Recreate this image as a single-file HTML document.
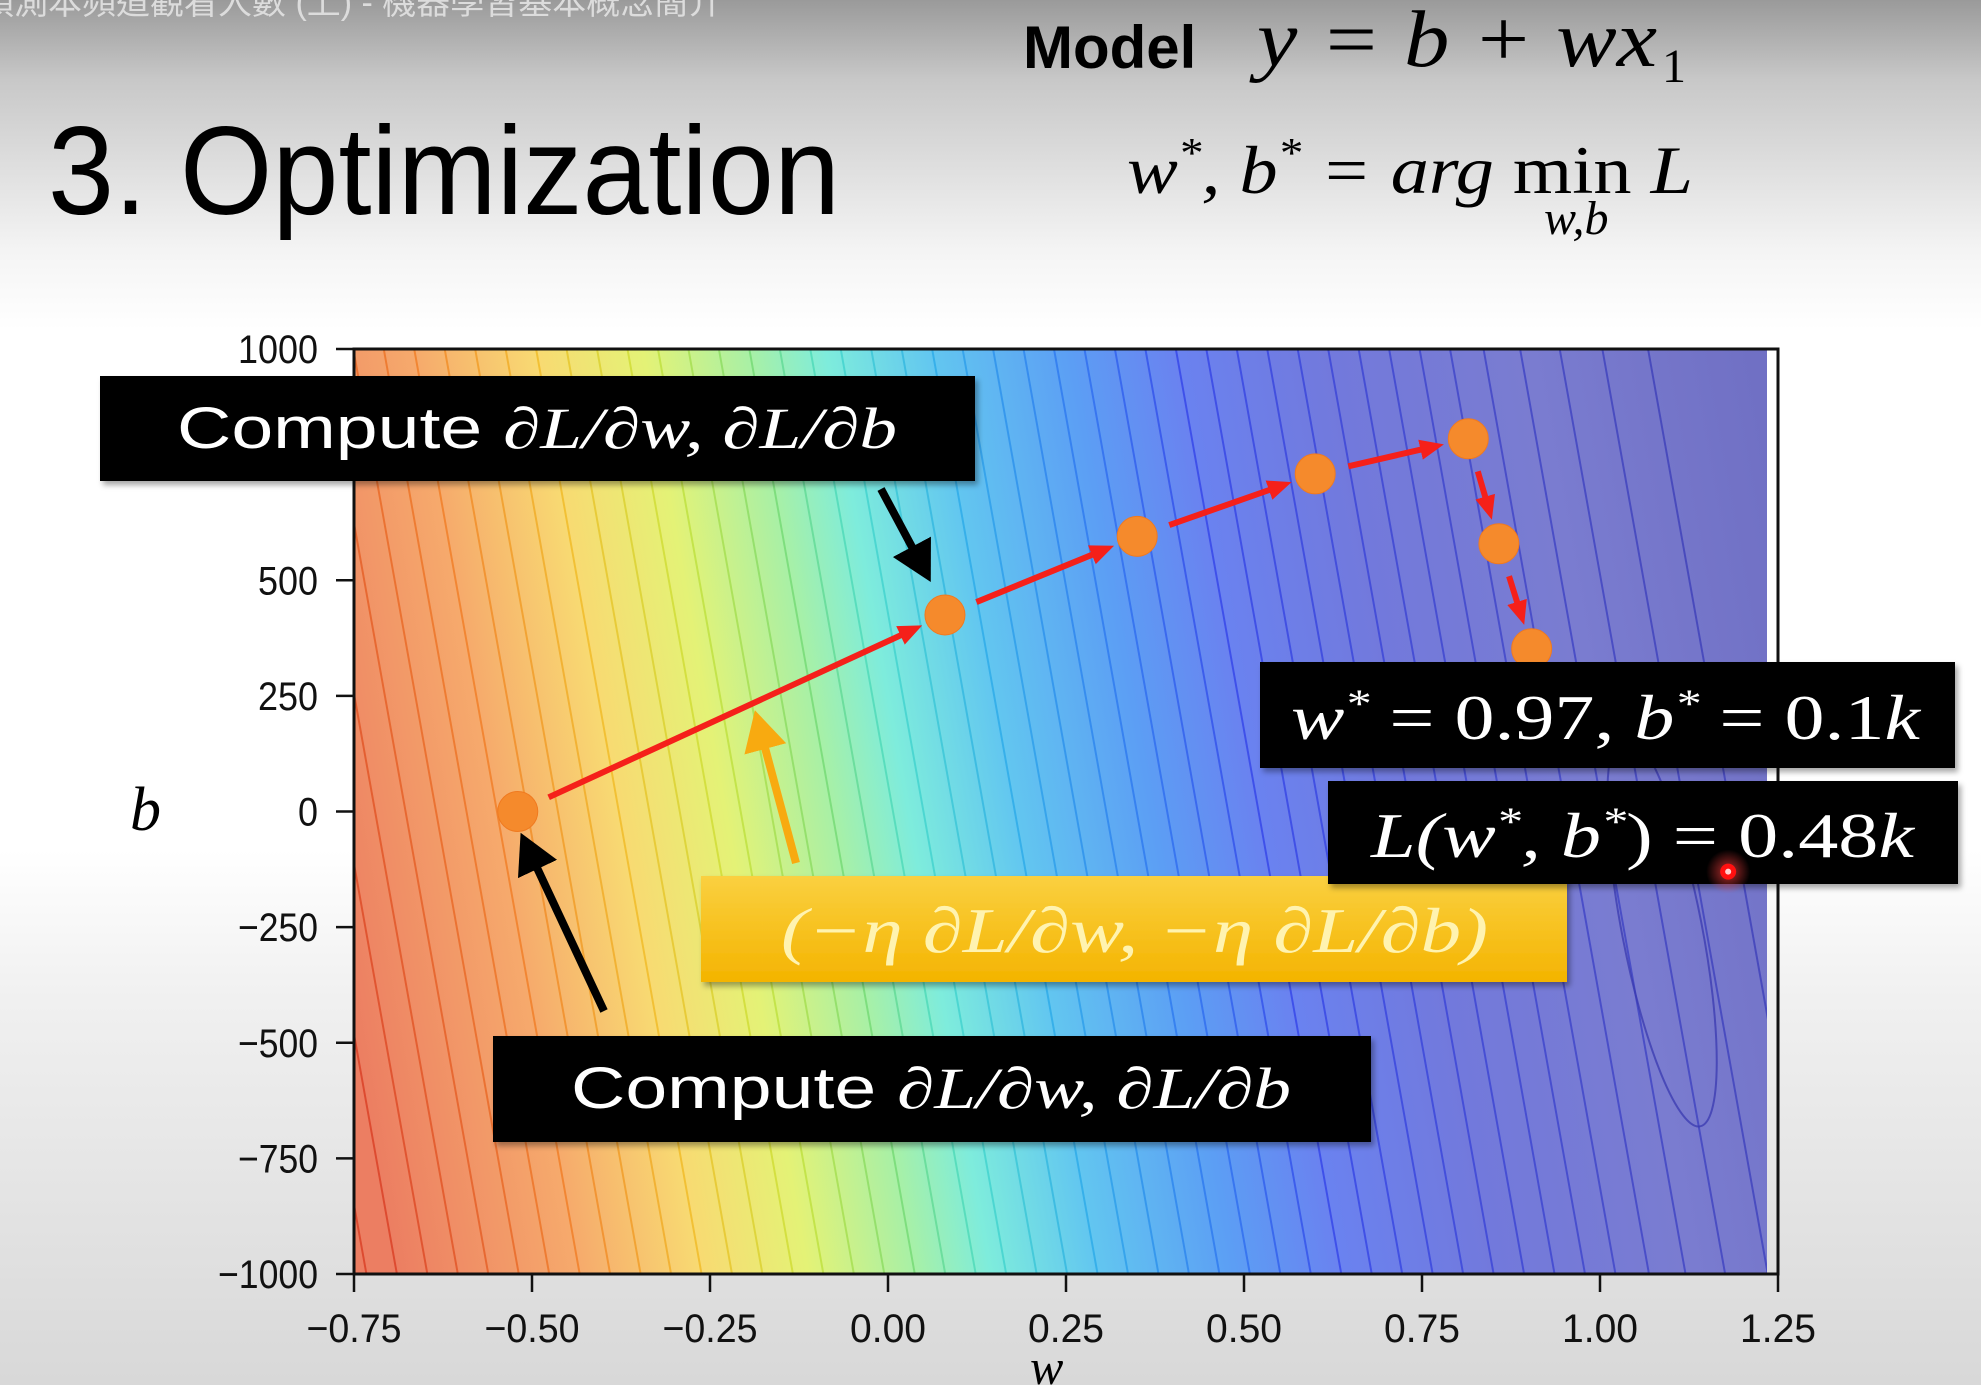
<!DOCTYPE html>
<html><head><meta charset="utf-8">
<style>
html,body{margin:0;padding:0;overflow:hidden;}
body{width:1981px;height:1385px;overflow:hidden;background:linear-gradient(#9a9a9a 0px,#c8c8c8 80px,#f4f4f4 250px,#ffffff 330px,#ffffff 850px,#f0f0f0 1000px,#d8d8d8 1385px);}
svg{position:absolute;left:0;top:0;display:block;}
.m{font-family:"Liberation Serif",serif;font-style:italic;}
.s{font-family:"Liberation Sans",sans-serif;}
</style></head>
<body>
<svg id="chart" width="1981" height="1385" viewBox="0 0 1981 1385">
<defs>
<linearGradient id="fillGrad" gradientUnits="userSpaceOnUse" x1="330" y1="900" x2="1806" y2="636">
<stop offset="0" stop-color="#ec7e62"/>
<stop offset="0.12" stop-color="#f6aa6c"/>
<stop offset="0.2" stop-color="#f8da72"/>
<stop offset="0.27" stop-color="#e4f276"/>
<stop offset="0.34" stop-color="#a8f0a6"/>
<stop offset="0.39" stop-color="#7eecdc"/>
<stop offset="0.46" stop-color="#62c6f0"/>
<stop offset="0.55" stop-color="#5c9ef4"/>
<stop offset="0.62" stop-color="#6a82f0"/>
<stop offset="0.72" stop-color="#7279dc"/>
<stop offset="0.85" stop-color="#7a7cd0"/>
<stop offset="1" stop-color="#7070c4"/>
</linearGradient>
<linearGradient id="lineGrad" gradientUnits="userSpaceOnUse" x1="330" y1="900" x2="1806" y2="636">
<stop offset="0" stop-color="#d83a20"/>
<stop offset="0.12" stop-color="#f07a20"/>
<stop offset="0.2" stop-color="#f0b820"/>
<stop offset="0.27" stop-color="#c8e030"/>
<stop offset="0.34" stop-color="#70d870"/>
<stop offset="0.39" stop-color="#40d8c8"/>
<stop offset="0.46" stop-color="#28a8e8"/>
<stop offset="0.55" stop-color="#2a70f0"/>
<stop offset="0.62" stop-color="#3040e8"/>
<stop offset="0.8" stop-color="#3a40c8"/>
<stop offset="1" stop-color="#3a3ab0"/>
</linearGradient>
<linearGradient id="yel" x1="0" y1="0" x2="0" y2="1">
<stop offset="0" stop-color="#fad040"/><stop offset="1" stop-color="#f4b400"/>
</linearGradient>
<clipPath id="plotClip"><rect x="354" y="349" width="1413" height="925"/></clipPath>
<marker id="redHead" markerWidth="4" markerHeight="4" refX="2.5" refY="2" orient="auto" markerUnits="strokeWidth"><path d="M0,0.3 L4,2 L0,3.7 Z" fill="#f5201a"/></marker>
<marker id="blackHead" markerWidth="6" markerHeight="6" refX="4" refY="3" orient="auto" markerUnits="strokeWidth"><path d="M0,0.3 L5,3 L0,5.7 Z" fill="#000"/></marker>
<marker id="orangeHead" markerWidth="6" markerHeight="6" refX="4" refY="3" orient="auto" markerUnits="strokeWidth"><path d="M0,0.3 L5,3 L0,5.7 Z" fill="#f8aa10"/></marker>
<filter id="shadow" x="-5%" y="-10%" width="110%" height="130%"><feDropShadow dx="3" dy="4" stdDeviation="3" flood-opacity="0.35"/></filter>
<radialGradient id="glow"><stop offset="0" stop-color="#ff4040" stop-opacity="0.7"/><stop offset="1" stop-color="#ff4040" stop-opacity="0"/></radialGradient>
</defs>

<text x="-20" y="14" class="s" font-size="34" fill="#dcdcdc" style="font-family:'Liberation Sans','Noto Sans CJK TC',sans-serif">預測本頻道觀看人數 (上) - 機器學習基本概念簡介</text>

<text x="1023" y="68" class="s" font-size="60" font-weight="bold" fill="#000">Model</text>
<text x="1257" y="66" class="m" font-size="80" fill="#000" textLength="400" lengthAdjust="spacingAndGlyphs">y = b + wx</text>
<text x="1662" y="82" font-family="Liberation Serif, serif" font-size="48" fill="#000">1</text>
<text x="48" y="214" class="s" font-size="125" fill="#000" textLength="792" lengthAdjust="spacingAndGlyphs">3. Optimization</text>
<g>
<text x="1127" y="193" class="m" font-size="68" fill="#000" textLength="566" lengthAdjust="spacingAndGlyphs">w<tspan dy="-26" font-size="42">*</tspan><tspan dy="26">, b</tspan><tspan dy="-26" font-size="42">*</tspan><tspan dy="26"> = arg </tspan><tspan font-style="normal">min </tspan>L</text>
<text x="1544" y="234" class="m" font-size="48" fill="#000">w,b</text>
</g>

<g id="plot"></g>
<g id="axes"></g>
<g id="path"></g>

<text x="130" y="830" class="m" font-size="62" fill="#000">b</text>
<text x="1030" y="1384" class="m" font-size="50" fill="#000">w</text>

<g>
<line x1="604" y1="1011" x2="524" y2="840" stroke="#000" stroke-width="8" marker-end="url(#blackHead)"/>
<line x1="881" y1="489" x2="927" y2="575" stroke="#000" stroke-width="8" marker-end="url(#blackHead)"/>
<line x1="796" y1="863" x2="757" y2="718" stroke="#f8aa10" stroke-width="8" marker-end="url(#orangeHead)"/>

<g filter="url(#shadow)">
<rect x="100" y="376" width="875" height="105" fill="#000"/>
<text x="177" y="448" fill="#fff" font-size="58" textLength="720" lengthAdjust="spacingAndGlyphs"><tspan class="s">Compute </tspan><tspan class="m">∂L/∂w, ∂L/∂b</tspan></text>
</g>
<g filter="url(#shadow)">
<rect x="493" y="1036" width="878" height="106" fill="#000"/>
<text x="571" y="1108" fill="#fff" font-size="58" textLength="720" lengthAdjust="spacingAndGlyphs"><tspan class="s">Compute </tspan><tspan class="m">∂L/∂w, ∂L/∂b</tspan></text>
</g>
<g filter="url(#shadow)">
<rect x="701" y="876" width="866" height="106" fill="url(#yel)"/>
<text x="781" y="952" class="m" fill="#fff3b0" font-size="64" textLength="707" lengthAdjust="spacingAndGlyphs">(−η ∂L/∂w, −η ∂L/∂b)</text>
</g>
<g filter="url(#shadow)">
<rect x="1260" y="662" width="695" height="106" fill="#000"/>
<text x="1291" y="739" class="m" fill="#fff" font-size="64" textLength="629" lengthAdjust="spacingAndGlyphs">w<tspan dy="-22" font-size="40">*</tspan><tspan dy="22" font-style="normal"> = 0.97, </tspan>b<tspan dy="-22" font-size="40">*</tspan><tspan dy="22" font-style="normal"> = 0.1</tspan>k</text>
</g>
<g filter="url(#shadow)">
<rect x="1328" y="781" width="630" height="103" fill="#000"/>
<text x="1371" y="857" class="m" fill="#fff" font-size="64" textLength="543" lengthAdjust="spacingAndGlyphs">L(w<tspan dy="-22" font-size="40">*</tspan><tspan dy="22">, b</tspan><tspan dy="-22" font-size="40">*</tspan><tspan dy="22" font-style="normal">) = 0.48</tspan>k</text>
</g>
</g>
<g id="minpt"></g>
</svg>
<script>
// data
const xTicks = [-0.75, -0.5, -0.25, 0, 0.25, 0.5, 0.75, 1.0, 1.25];
const xTickLabels = ["−0.75","−0.50","−0.25","0.00","0.25","0.50","0.75","1.00","1.25"];
const yTicks = [1000, 500, 250, 0, -250, -500, -750, -1000];
const yTickLabels = ["1000","500","250","0","−250","−500","−750","−1000"];
const pathW = [-0.52, 0.08, 0.35, 0.60, 0.815, 0.858, 0.904];
const pathB = [0, 425, 595, 730, 806, 579, 352];
const minW = [1.18];
const minB = [-130];

const X0=354, X1=1778, Y0=1274, Y1=349;
function xs(w){return X0+(w-(-0.75))/(1.25-(-0.75))*(X1-X0);}
function ys(b){return Y0-(b-(-1000))/(2000)*(Y0-Y1);}
const NS="http://www.w3.org/2000/svg";
function mk(t,attrs,parent){const e=document.createElementNS(NS,t);for(const k in attrs)e.setAttribute(k,attrs[k]);parent.appendChild(e);return e;}

const plot=document.getElementById('plot');
const bg=mk('rect',{x:354,y:349,width:1413,height:925,fill:'url(#fillGrad)'},plot);


const cg=mk('g',{'clip-path':'url(#plotClip)',stroke:'url(#lineGrad)','stroke-width':2,fill:'none','stroke-opacity':0.75},plot);


const ux=0.984, uy=-0.176, dx=0.176, dy=0.984;
for(let k=-2;k<56;k++){
  const off = k<40 ? k*30 : 1200+(k-40)*30+((k-40)*(k-39))*1.5;
  if(off>1440) break;
  const cx=330+ux*off, cy=900+uy*off;
  const l=mk('line',{x1:cx-dx*900,y1:cy-dy*900,x2:cx+dx*900,y2:cy+dy*900},cg);
  
  
}
const el=mk('ellipse',{cx:1662,cy:930,rx:40,ry:200,transform:'rotate(-11 1662 930)',stroke:'#3a3ab0'},cg);



// axes
const ax=document.getElementById('axes');
const fr=mk('rect',{x:354,y:349,width:1424,height:925,fill:'none',stroke:'#111','stroke-width':3},ax);


xTicks.forEach((v,i)=>{
  const x=xs(v);
  const t=mk('line',{x1:x,y1:1274,x2:x,y2:1292,stroke:'#111','stroke-width':2.5},ax);
  
  
  const tx=mk('text',{x:x,y:1342,'text-anchor':'middle','font-size':40,'font-family':'Liberation Sans, sans-serif',fill:'#111',textLength:(xTickLabels[i].length*19),lengthAdjust:'spacingAndGlyphs'},ax);
  tx.textContent=xTickLabels[i];
  
  
});
yTicks.forEach((v,i)=>{
  const y=ys(v);
  const t=mk('line',{x1:336,y1:y,x2:354,y2:y,stroke:'#111','stroke-width':2.5},ax);
  
  
  const tx=mk('text',{x:318,y:y+14,'text-anchor':'end','font-size':40,'font-family':'Liberation Sans, sans-serif',fill:'#111',textLength:(yTickLabels[i].length*20),lengthAdjust:'spacingAndGlyphs'},ax);
  tx.textContent=yTickLabels[i];
  
  
});

// descent path
const pg=document.getElementById('path');
const R=20;
for(let i=0;i<pathW.length-1;i++){
  const x1=xs(pathW[i]),y1=ys(pathB[i]),x2=xs(pathW[i+1]),y2=ys(pathB[i+1]);
  const L=Math.hypot(x2-x1,y2-y1),ex=(x2-x1)/L,ey=(y2-y1)/L;
  const a=mk('line',{x1:x1+ex*(R+14),y1:y1+ey*(R+14),x2:x2-ex*(R+14),y2:y2-ey*(R+14),stroke:'#f5201a','stroke-width':6,'marker-end':'url(#redHead)'},pg);
  
  
}
pathW.forEach((w,i)=>{
  const c=mk('circle',{cx:xs(w),cy:ys(pathB[i]),r:R,fill:'#f58a2c',stroke:'#f07a20','stroke-width':1},pg);
  
  
});
const mg=document.getElementById('minpt');
minW.forEach((w,i)=>{
  const g1=mk('circle',{cx:xs(w),cy:ys(minB[i]),r:22,fill:'url(#glow)'},mg);
  
  
  const c=mk('circle',{cx:xs(w),cy:ys(minB[i]),r:8,fill:'#ff1010'},mg);
  
  
  const c2=mk('circle',{cx:xs(w),cy:ys(minB[i]),r:3,fill:'#ffd0d0'},mg);
  
  
});
</script>
</body></html>
